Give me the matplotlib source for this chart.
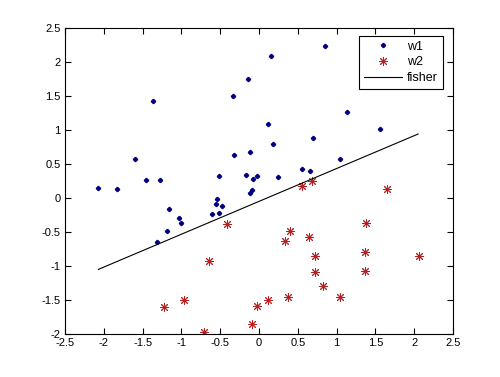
import numpy as np
import matplotlib
matplotlib.use("Agg")
import matplotlib.pyplot as plt

plt.rcParams['font.family'] = ['Liberation Sans', 'DejaVu Sans']

# w1 samples
w1_x = [-2.07, -1.83, -1.60, -1.45, -1.37, -1.27, -1.16, -1.03, -1.00, -1.19, -1.32,
        -0.34, -0.14, -0.32, -0.52, -0.54, -0.55, -0.48, -0.52, -0.61, -0.17, -0.08,
        -0.02, -0.12, -0.09, -0.12, 0.155, 0.85, 1.13, 0.11, 1.56, 0.70, 0.18, 1.04,
        0.56, 0.66, 0.25]
w1_y = [0.15, 0.13, 0.58, 0.26, 1.43, 0.27, -0.16, -0.29, -0.37, -0.48, -0.64,
        1.50, 1.75, 0.63, 0.32, -0.01, -0.09, -0.12, -0.22, -0.23, 0.34, 0.28,
        0.33, 0.08, 0.12, 0.67, 2.08, 2.23, 1.27, 1.08, 1.02, 0.88, 0.79, 0.58,
        0.42, 0.39, 0.31]

# w2 samples
w2_x = [-0.41, -0.64, -1.23, -0.97, -0.71, -0.09, -0.02, 0.12, 0.55, 0.68, 1.65, 1.38,
        0.40, 0.34, 0.65, 0.72, 1.36, 2.06, 0.72, 1.37, 0.82, 0.38, 1.04]
w2_y = [-0.39, -0.93, -1.60, -1.50, -1.97, -1.85, -1.59, -1.50, 0.18, 0.25, 0.13, -0.37,
        -0.48, -0.63, -0.57, -0.86, -0.79, -0.85, -1.09, -1.07, -1.30, -1.45, -1.46]

# fisher line end points
line_x = [-2.07, 2.05]
line_y = [-1.05, 0.94]

fig = plt.figure(figsize=(5, 3.77), dpi=100)
ax = fig.add_axes([0.13, 0.114, 0.776, 0.812])

ax.plot(w1_x, w1_y, linestyle="none", marker="P", markersize=2.8, color="#00007f", label="w1")
ax.plot(w2_x, w2_y, linestyle="none", marker=(8, 2, 0), markersize=6.5, markeredgewidth=0.7,
        color="#b22222", label="w2")
ax.plot(line_x, line_y, color="black", linewidth=0.8, label="fisher")

ax.set_xlim(-2.5, 2.5)
ax.set_ylim(-2, 2.5)
ax.set_xticks(np.arange(-2.5, 2.51, 0.5))
ax.set_yticks(np.arange(-2, 2.51, 0.5))
ax.set_xticklabels(["-2.5", "-2", "-1.5", "-1", "-0.5", "0", "0.5", "1", "1.5", "2", "2.5"])
ax.set_yticklabels(["-2", "-1.5", "-1", "-0.5", "0", "0.5", "1", "1.5", "2", "2.5"])
ax.tick_params(direction="in", top=True, right=True, labelsize=8, length=4, pad=3)
for s in ax.spines.values():
    s.set_linewidth(0.8)

leg = ax.legend(loc="upper right", fontsize=9, fancybox=False, edgecolor="black",
                framealpha=1, handlelength=3.0, borderpad=0.4, labelspacing=0.3,
                handletextpad=0.4, bbox_to_anchor=(0.99, 0.995))
leg.get_frame().set_linewidth(0.8)

fig.savefig("out.png", dpi=100)
